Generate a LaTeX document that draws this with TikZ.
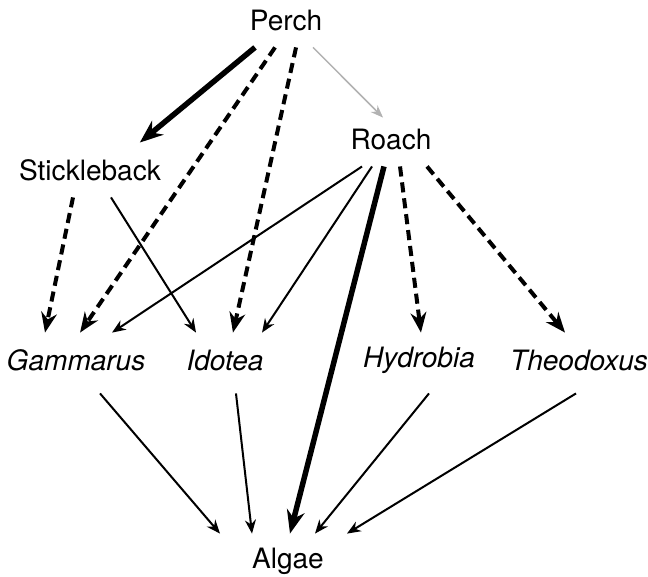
\documentclass[tikz,border=0pt]{standalone}
\usepackage{fontspec}
\setmainfont{TeX Gyre Heros}
\usetikzlibrary{arrows.meta}
\begin{document}
\begin{tikzpicture}[
    sp/.style={font=\fontsize{13.3}{16}\selectfont, inner sep=0pt, minimum height=0.9cm},
    link/.style={-{Stealth[length=6.5pt, width=5.2pt]}, line width=0.95pt},
    dlink/.style={-{Stealth[length=9.5pt, width=7.5pt]}, line width=1.9pt, dash pattern=on 4.8pt off 2.8pt},
    blink/.style={-{Stealth[length=11pt, width=8.5pt]}, line width=2.6pt},
    glink/.style={-{Stealth[length=6pt, width=4.5pt]}, line width=0.7pt, gray!60}]
    \useasboundingbox (0,0) rectangle (10.8,-9.6);

    % ---- Especies ----
    \node[sp] (perch) at (4.767,-0.333) {Perch};
    \node[sp] (roach) at (6.517,-2.317) {Roach};
    \node[sp] (stick) at (1.5,-2.833) {Stickleback};
    \node[sp] (gam) at (1.267,-6.0) {\itshape Gammarus};
    \node[sp] (ido) at (3.75,-6.0) {\itshape Idotea};
    \node[sp] (hyd) at (6.983,-6.0) {\itshape Hydrobia};
    \node[sp] (theo) at (9.65,-6.0) {\itshape Theodoxus};
    \node[sp] (algae) at (4.8,-9.35) {Algae};

    % ---- Desde Perch ----
    \draw[blink] ([xshift=-0.517cm]perch.south) -- ([xshift=0.83cm]stick.north);
    \draw[dlink] ([xshift=-0.183cm]perch.south) -- ([xshift=0.067cm]gam.north);
    \draw[dlink] ([xshift=0.167cm]perch.south) -- ([xshift=0.133cm]ido.north);
    \draw[glink] ([xshift=0.45cm]perch.south) -- ([xshift=-0.133cm,yshift=-0.1cm]roach.north);

    % ---- Desde Stickleback ----
    \draw[dlink] ([xshift=-0.283cm]stick.south) -- ([xshift=-0.517cm]gam.north);
    \draw[link] ([xshift=0.35cm]stick.south) -- ([xshift=-0.483cm]ido.north);

    % ---- Desde Roach ----
    \draw[link] ([xshift=-0.483cm]roach.south) -- ([xshift=0.6cm]gam.north);
    \draw[link] ([xshift=-0.317cm]roach.south) -- ([xshift=0.617cm]ido.north);
    \draw[blink] ([xshift=-0.117cm]roach.south) -- ([xshift=0.033cm]algae.north);
    \draw[dlink] ([xshift=0.15cm]roach.south) -- ([xshift=0.033cm]hyd.north);
    \draw[dlink] ([xshift=0.6cm]roach.south) -- ([xshift=-0.233cm]theo.north);

    % ---- Hacia Algae ----
    \draw[link] ([xshift=0.4cm,yshift=-0.1cm]gam.south) -- ([xshift=-1.133cm]algae.north);
    \draw[link] ([xshift=0.183cm,yshift=-0.1cm]ido.south) -- ([xshift=-0.6cm]algae.north);
    \draw[link] ([xshift=0.167cm,yshift=-0.1cm]hyd.south) -- ([xshift=0.45cm]algae.north);
    \draw[link] ([xshift=-0.05cm,yshift=-0.1cm]theo.south) -- ([xshift=0.983cm]algae.north);
\end{tikzpicture}
\end{document}
